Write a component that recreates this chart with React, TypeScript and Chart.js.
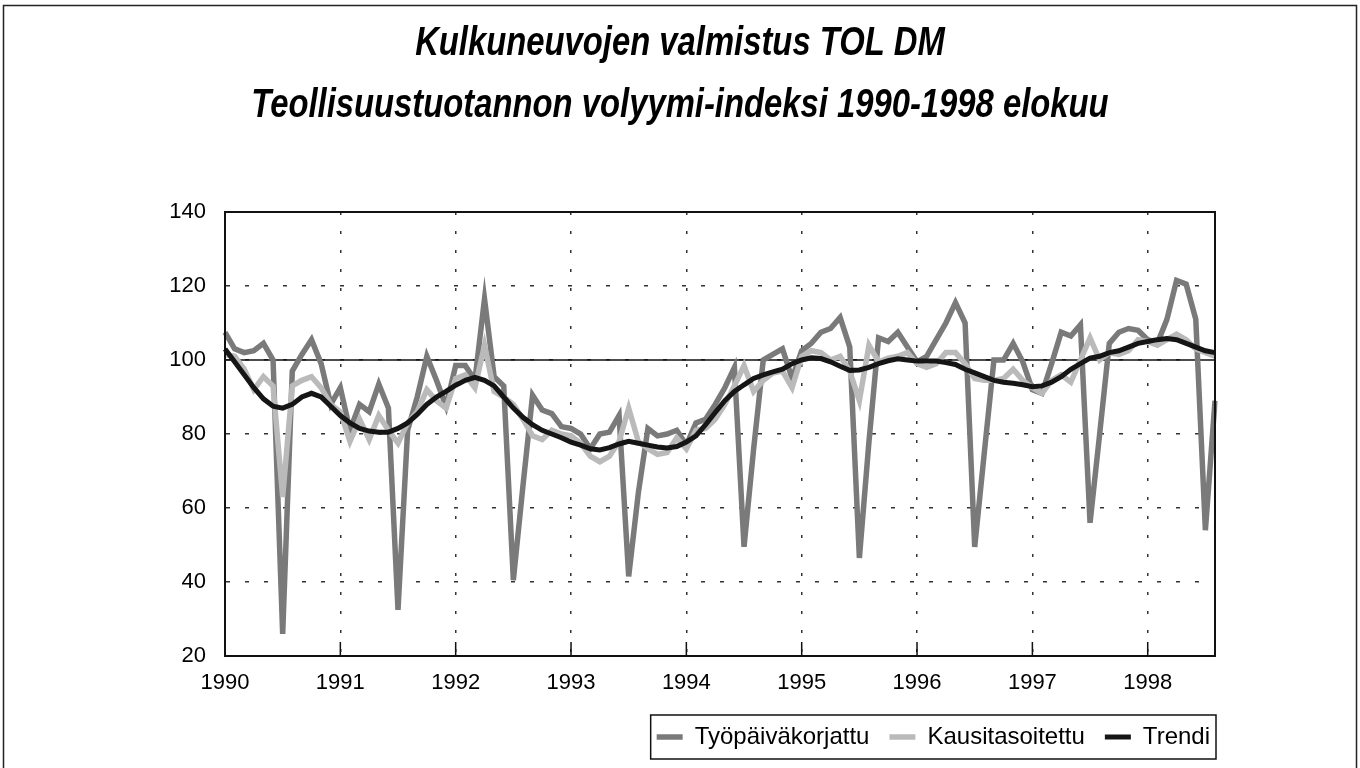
import React, { useEffect, useRef } from "react";
import { Chart, registerables } from "chart.js";

Chart.register(...registerables);

const TITLE_LINES = [
  "Kulkuneuvojen valmistus TOL DM",
  "Teollisuustuotannon volyymi-indeksi 1990-1998 elokuu",
];

const YEARS = ["1990", "1991", "1992", "1993", "1994", "1995", "1996", "1997", "1998"];
const MONTHS = ["01", "02", "03", "04", "05", "06", "07", "08", "09", "10", "11", "12"];
const N_POINTS = 104; // 1990/01 .. 1998/08
const CATEGORIES = YEARS.flatMap((y) => MONTHS.map((m) => `${y}/${m}`)).slice(0, N_POINTS);

const SERIES_NAMES = ["Työpäiväkorjattu", "Kausitasoitettu", "Trendi"];

const TYOPAIVAKORJATTU = [
  107.5, 103, 102, 102.5, 104.5, 100, 26, 97, 101.5, 105.5, 99, 88,
  92.5, 81, 88, 86, 93.5, 87, 32.5, 81, 90, 101, 94.5, 87.5,
  98.5, 98.5, 94.5, 116.5, 95.5, 93, 40.5, 66, 90.5, 86.5, 85.5, 82,
  81.5, 80, 76, 80, 80.5, 85, 41.5, 64, 81.5, 79.5, 80, 81,
  77, 83, 84, 88, 92.5, 98, 49.5, 76, 100, 101.5, 103, 95,
  102.5, 104.5, 107.5, 108.5, 111.5, 103.5, 46.5, 78, 106, 105, 107.5, 103.5,
  99.5, 101, 105.5, 110, 115.5, 110, 49.5, 75, 100, 100, 104.5, 99.5,
  92, 91, 99, 107.5, 106.5, 109.5, 56, 80, 104.5, 107.5, 108.5, 108,
  105.5, 104.5, 111, 121.5, 120.5, 111, 54, 89,
];

const KAUSITASOITETTU = [
  101.5, 101, 97.5, 92, 95.5, 93, 63, 93, 94.5, 95.5, 92.5, 88,
  86, 78, 84, 78.5, 85, 81, 77.5, 83, 86, 92, 89, 87,
  95, 96, 92.5, 104, 91.5, 90, 88, 84, 79.5, 78.5, 81, 80,
  79.5, 77.5, 74, 72.5, 74, 78, 87, 78, 76, 74.5, 75, 79,
  76, 81, 81.5, 84, 88, 93, 98.5, 91.5, 94.5, 96.5, 97, 92.5,
  101, 102.5, 102, 100, 101, 97, 89, 104, 99.5, 100.5, 101, 102,
  99, 98, 99, 102, 102, 99, 95, 94.5, 94.5, 95, 97.5, 94.5,
  92.5, 91, 94.5, 96, 94, 100, 106, 100, 102, 101.5, 102.5, 105.5,
  105, 104, 105.5, 107, 105.5, 103, 102, 101,
];

const TRENDI = [
  103, 99.5, 96, 92.5, 89.5, 87.5, 87, 88, 90, 91, 90, 87.5,
  85, 83, 81.5, 80.8, 80.5, 80.5, 81.5, 83, 85.3, 88, 90, 91.5,
  93.2, 94.5, 95.3, 94.5, 93, 90, 87, 84.5, 82.5, 81, 80, 79,
  77.8, 77, 76, 75.7, 76.3, 77.3, 78, 77.5, 77, 76.5, 76.2, 76.6,
  77.8, 79.5, 82.5, 85.8, 89, 91.5, 93.3, 95, 96, 96.8, 97.5, 99,
  100, 100.6, 100.4, 99.5, 98.3, 97.2, 97.3, 98, 99, 99.8, 100.3, 100,
  99.7, 99.7, 99.7, 99.3, 98.8, 97.5, 96.5, 95.5, 94.5, 94, 93.7, 93.3,
  92.8, 93, 94, 95.5, 97.5, 99, 100.5, 101, 102, 102.5, 103.5, 104.5,
  105, 105.5, 105.8, 105.5, 104.5, 103.5, 102.5, 102,
];

const Y_MIN = 20;
const Y_MAX = 140;
const Y_STEP = 20;
const REFERENCE_VALUE = 100;

const SANS = '"Liberation Sans", Arial, "DejaVu Sans", sans-serif';
const TITLE_FONT = 'italic bold 40px "Liberation Sans", Arial, sans-serif';
const TITLE_SQUEEZE = 0.82; // emulates a narrow (condensed) face
const TITLE_Y = [44, 106];
const LEGEND_SHIFT = 15;

const framePlugin = {
  id: "framePlugin",
  afterLayout(chart: any) {
    const lg = chart.legend;
    if (lg) {
      lg.left += LEGEND_SHIFT;
      lg.right += LEGEND_SHIFT;
    }
  },
  beforeDraw(chart: any) {
    const { ctx, width, height } = chart;
    ctx.save();
    ctx.fillStyle = "#ffffff";
    ctx.fillRect(0, 0, width, height);
    ctx.strokeStyle = "#222";
    ctx.lineWidth = 1.5;
    ctx.strokeRect(3.5, 5.5, width - 7, height + 10);
    ctx.restore();
  },
  beforeDatasetsDraw(chart: any) {
    const { ctx, chartArea, scales } = chart;
    const y = scales.y.getPixelForValue(REFERENCE_VALUE);
    ctx.save();
    ctx.strokeStyle = "#111";
    ctx.lineWidth = 1.5;
    ctx.beginPath();
    ctx.moveTo(chartArea.left, y);
    ctx.lineTo(chartArea.right, y);
    ctx.stroke();
    ctx.restore();
  },
  afterDatasetsDraw(chart: any) {
    const { ctx, chartArea, scales } = chart;
    ctx.save();
    ctx.strokeStyle = "#111";
    ctx.lineWidth = 2;
    ctx.strokeRect(chartArea.left, chartArea.top, chartArea.right - chartArea.left, chartArea.bottom - chartArea.top);
    ctx.lineWidth = 1.5;
    ctx.beginPath();
    CATEGORIES.forEach((c, i) => {
      if (i % 12 === 0 && i > 0) {
        const x = scales.x.getPixelForValue(i);
        ctx.moveTo(x, chartArea.bottom);
        ctx.lineTo(x, chartArea.bottom - 14);
      }
    });
    ctx.stroke();
    ctx.restore();
  },
  afterDraw(chart: any) {
    const { ctx, width } = chart;
    // titles
    ctx.save();
    ctx.fillStyle = "#000";
    ctx.font = TITLE_FONT;
    ctx.textAlign = "center";
    ctx.textBaseline = "middle";
    TITLE_LINES.forEach((line, i) => {
      ctx.save();
      ctx.translate(width / 2, TITLE_Y[i]);
      ctx.scale(TITLE_SQUEEZE, 1);
      ctx.fillText(line, 0, 0);
      ctx.restore();
    });
    ctx.restore();

    // legend frame
    const lg = chart.legend;
    if (!lg || !lg.legendHitBoxes || !lg.legendHitBoxes.length) return;
    const boxes = lg.legendHitBoxes;
    const left = Math.min(...boxes.map((b: any) => b.left));
    const right = Math.max(...boxes.map((b: any) => b.left + b.width));
    const top = Math.min(...boxes.map((b: any) => b.top));
    const bottom = Math.max(...boxes.map((b: any) => b.top + b.height));
    ctx.save();
    ctx.strokeStyle = "#111";
    ctx.lineWidth = 1.5;
    ctx.strokeRect(left - 6, top - 10, right - left + 12, bottom - top + 20);
    ctx.restore();
  },
};

export default function App() {
  const canvasRef = useRef<HTMLCanvasElement | null>(null);

  useEffect(() => {
    if (!canvasRef.current) return;
    const chart = new Chart(canvasRef.current, {
      type: "line",
      data: {
        labels: CATEGORIES,
        datasets: [
          {
            label: SERIES_NAMES[2],
            data: TRENDI,
            borderColor: "#151515",
            backgroundColor: "#151515",
            borderWidth: 5,
            pointRadius: 0,
            tension: 0,
          },
          {
            label: SERIES_NAMES[1],
            data: KAUSITASOITETTU,
            borderColor: "#bababa",
            backgroundColor: "#bababa",
            borderWidth: 5.5,
            pointRadius: 0,
            tension: 0,
          },
          {
            label: SERIES_NAMES[0],
            data: TYOPAIVAKORJATTU,
            borderColor: "#7a7a7a",
            backgroundColor: "#7a7a7a",
            borderWidth: 5.5,
            pointRadius: 0,
            tension: 0,
          },
        ],
      },
      options: {
        responsive: false,
        maintainAspectRatio: false,
        animation: false,
        layout: { padding: { left: 0, right: 0, top: 212, bottom: 9 } },
        plugins: {
          tooltip: { enabled: false },
          title: { display: false },
          legend: {
            display: true,
            position: "bottom",
            align: "end",
            fullSize: false,
            reverse: true,
            labels: {
              color: "#000",
              font: { family: SANS, size: 24 },
              usePointStyle: true,
              pointStyle: "line",
              pointStyleWidth: 26,
              padding: 20,
            },
          },
        },
        scales: {
          x: {
            type: "category",
            offset: false,
            grid: {
              display: true,
              drawTicks: false,
              color: (ctx: any) => (ctx.index % 12 === 0 ? "#333" : "rgba(0,0,0,0)"),
              lineWidth: 1.5,
            },
            border: { display: true, color: "#111", width: 2, dash: [3, 16] },
            ticks: {
              autoSkip: false,
              maxRotation: 0,
              padding: 14,
              color: "#000",
              font: { family: SANS, size: 22 },
              callback: (_v: any, i: number) => (i % 12 === 0 ? CATEGORIES[i].slice(0, 4) : ""),
            },
            afterFit: (s: any) => {
              s.height = 49;
            },
          },
          y: {
            type: "linear",
            min: Y_MIN,
            max: Y_MAX,
            grid: { display: true, drawTicks: false, color: "#333", lineWidth: 1.5 },
            border: { display: true, color: "#111", width: 2, dash: [4, 15] },
            ticks: {
              stepSize: Y_STEP,
              padding: 19,
              color: "#000",
              font: { family: SANS, size: 22 },
            },
            afterFit: (s: any) => {
              s.width = 225;
            },
          },
          yRight: {
            type: "linear",
            position: "right",
            display: true,
            grid: { display: false },
            border: { display: false },
            ticks: { display: false },
            afterFit: (s: any) => {
              s.width = 145;
            },
          },
        },
      },
      plugins: [framePlugin],
    } as any);
    return () => chart.destroy();
  }, []);

  return (
    <div style={{ position: "absolute", left: 0, top: 0, width: 1360, height: 768, background: "#fff" }}>
      <canvas ref={canvasRef} width={1360} height={768} style={{ display: "block" }} />
    </div>
  );
}
